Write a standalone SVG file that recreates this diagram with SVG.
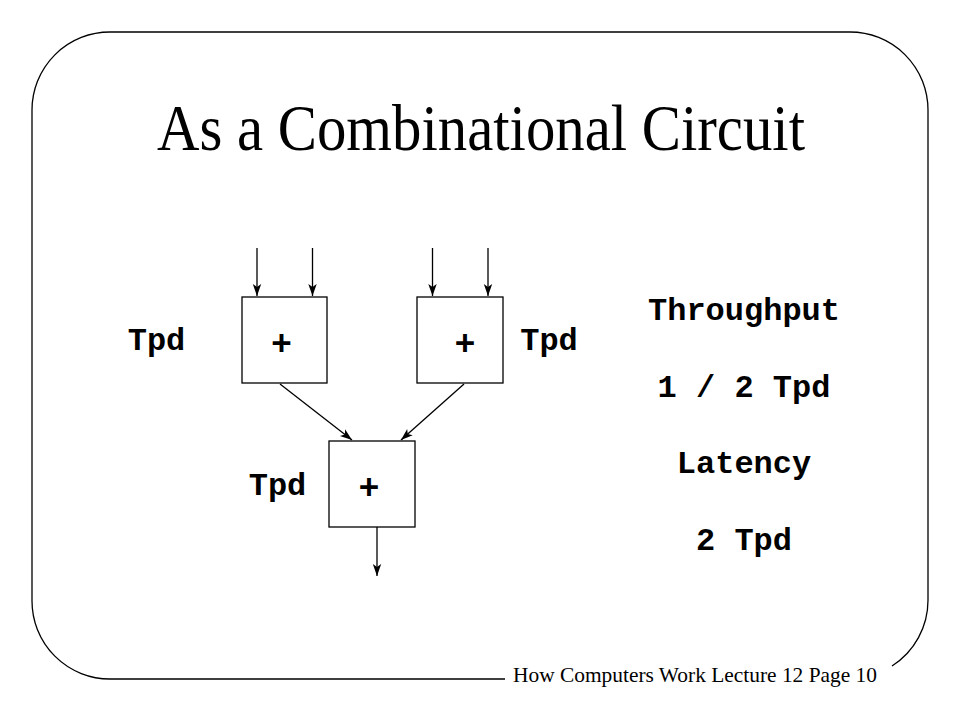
<svg xmlns="http://www.w3.org/2000/svg" width="960" height="720" viewBox="0 0 960 720">
<style>
.mono{font-family:"Liberation Mono","Courier New",monospace;font-weight:bold;font-size:32px;fill:#000}
.plus{font-size:35px}
.box{fill:#fff;stroke:#000;stroke-width:1.3}
.wire{fill:none;stroke:#000;stroke-width:1.3;marker-end:url(#ah)}
</style>
<defs>
<marker id="ah" markerUnits="userSpaceOnUse" viewBox="-13 -5 14 10" markerWidth="14" markerHeight="10" refX="0" refY="0" orient="auto">
<path d="M0,0 L-12,-4.2 L-9,0 L-12,4.2 Z" fill="#000"/>
</marker>
</defs>
<rect width="960" height="720" fill="#fff"/>
<path id="frame" d="M505,679 L110,679 A78,78 0 0 1 32,601 L32,110 A78,78 0 0 1 110,32 L850,32 A78,78 0 0 1 928,110 L928,600 A78,78 0 0 1 892,666" fill="none" stroke="#000" stroke-width="1.3"/>
<text id="title" x="157" y="150" font-family="Liberation Serif,'Times New Roman',serif" font-size="66" textLength="648" lengthAdjust="spacingAndGlyphs">As a Combinational Circuit</text>
<text id="footer" x="513" y="682" font-family="Liberation Serif,'Times New Roman',serif" font-size="21.5" textLength="364" lengthAdjust="spacingAndGlyphs">How Computers Work Lecture 12 Page 10</text>
<g id="adder1">
<rect class="box" x="242" y="297" width="85" height="86"/>
<text class="mono plus" x="281.5" y="355" text-anchor="middle">+</text>
<text class="mono" x="156.5" y="350" text-anchor="middle">Tpd</text>
</g>
<g id="adder2">
<rect class="box" x="417" y="297" width="86" height="86"/>
<text class="mono plus" x="465" y="355" text-anchor="middle">+</text>
<text class="mono" x="549" y="350" text-anchor="middle">Tpd</text>
</g>
<g id="adder3">
<rect class="box" x="329" y="441" width="86" height="86"/>
<text class="mono plus" x="369" y="499" text-anchor="middle">+</text>
<text class="mono" x="277.5" y="495" text-anchor="middle">Tpd</text>
</g>
<g id="metrics">
<text class="mono" x="744" y="320" text-anchor="middle">Throughput</text>
<text class="mono" x="744" y="397" text-anchor="middle">1 / 2 Tpd</text>
<text class="mono" x="744" y="473" text-anchor="middle">Latency</text>
<text class="mono" x="744" y="550" text-anchor="middle">2 Tpd</text>
</g>
<g id="connectors">
<line class="wire" x1="257" y1="248" x2="257" y2="296"/>
<line class="wire" x1="312.5" y1="248" x2="312.5" y2="296"/>
<line class="wire" x1="432.5" y1="248" x2="432.5" y2="296"/>
<line class="wire" x1="488" y1="248" x2="488" y2="296"/>
<line class="wire" x1="280" y1="384" x2="352" y2="440"/>
<line class="wire" x1="464" y1="384" x2="401" y2="440"/>
<line class="wire" x1="377" y1="527" x2="377" y2="576"/>
</g>
</svg>
